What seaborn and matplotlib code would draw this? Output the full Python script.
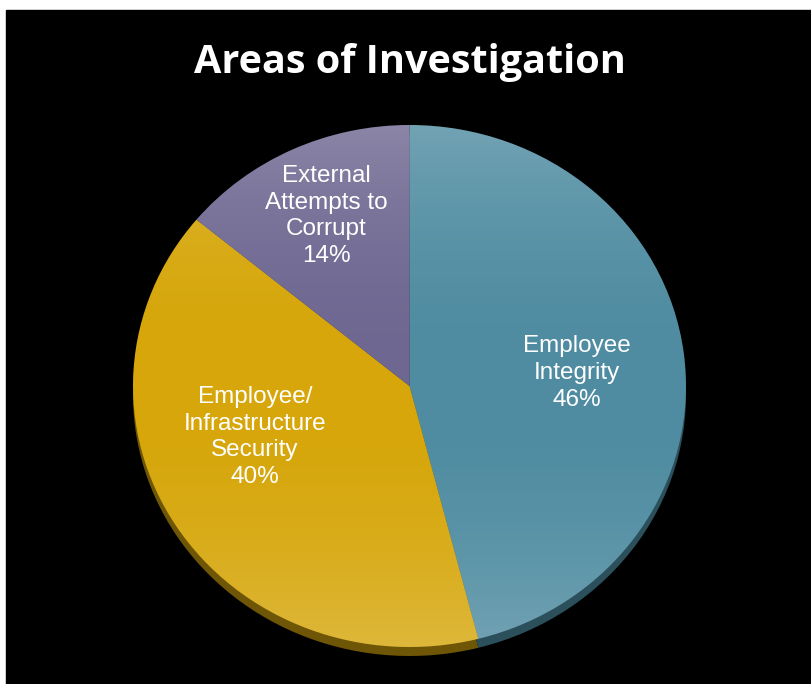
import numpy as np
import matplotlib
matplotlib.use('Agg')
import matplotlib.pyplot as plt
from matplotlib.patches import Circle
import seaborn as sns

# data
categories = ['Employee\nIntegrity', 'Employee/\nInfrastructure\nSecurity', 'External\nAttempts to\nCorrupt']
shares = [46, 40, 14]
colors = ['#4F8CA1', '#D6A60A', '#6E6791']
rim_colors = ['#2C4F5C', '#6E5606', '#3A3650']

sns.set_theme(style='dark')
plt.rcParams['font.family'] = ['Liberation Sans', 'DejaVu Sans']

W, H = 811, 684
fig = plt.figure(figsize=(W / 100, H / 100), dpi=100, facecolor='white')

# black panel, slightly inset from top-left
left, top = 6, 10
ax = fig.add_axes([left / W, 0, 1 - left / W, 1 - top / H])
ax.set_facecolor('black')

cx, cy = 409.5, H - 386          # pie center in pixels (from bottom)
rx, ry = 276.5, 261              # elliptical look (tilted pie)

# rim / 3D edge underneath
ax.pie(shares, colors=rim_colors, startangle=90, counterclock=False,
       center=(0, -9 / ry), radius=1, wedgeprops=dict(linewidth=0))
# top surface
wedges, texts = ax.pie(shares, colors=colors, startangle=90, counterclock=False,
                       radius=1, wedgeprops=dict(linewidth=0))

# glossy shading: lighter toward top and bottom, darker in the middle
yy = np.linspace(1, -1, 300)[:, None] * np.ones((1, 10))
shade = np.zeros((300, 10, 4))
shade[..., :3] = 1.0
shade[..., 3] = 0.20 * yy ** 2
im = ax.imshow(shade, extent=(-1, 1, -1, 1), aspect='auto', zorder=3, interpolation='bilinear')
im.set_clip_path(Circle((0, 0), 1, transform=ax.transData))

ax.set_aspect('auto')
ax.set_xlim((left - cx) / rx, (W - cx) / rx)
ax.set_ylim((0 - cy) / ry, (H - top - cy) / ry)
ax.axis('off')
fig.patches.append(plt.Rectangle((left / W, 0), 1 - left / W, 1 - top / H,
                                 transform=fig.transFigure, color='black', zorder=-1))

# labels (pixel centers)
label_px = [(577, 373), (255, 437), (326, 216)]
for cat, pct, (px, py) in zip(categories, shares, label_px):
    ax.text((px - cx) / rx, (H - py - cy) / ry, f'{cat}\n{pct}%',
            ha='center', va='center', color='white', fontsize=17.5,
            linespacing=1.27, zorder=5)

fig.text(409.5 / W, 1 - 62 / H, 'Areas of Investigation', ha='center', va='center',
         color='white', fontsize=28.5, fontweight='bold', family=['Open Sans', 'DejaVu Sans'])

fig.savefig('out.png', dpi=100, facecolor='white')
